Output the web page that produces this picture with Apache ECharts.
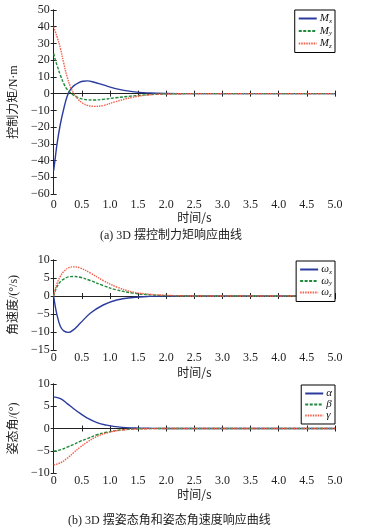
<!DOCTYPE html>
<html><head><meta charset="utf-8">
<script src="https://cdn.jsdelivr.net/npm/echarts@6/dist/echarts.min.js"></script>
<style>html,body{margin:0;padding:0;background:#fff}#c{width:376px;height:532px}</style>
</head><body><div id="c"></div>
<script>
// ---- Data ----
var tA = [0,0.03,0.06,0.12,0.18,0.24,0.3,0.36,0.44,0.52,0.6,0.72,0.88,1.1,1.4,1.7,2.0,2.5,3,3.5,4,4.5,5];
var Mx = [-46,-38,-30,-18,-9,-1.5,2.5,4.8,6.5,7.4,7.6,6.8,5.2,3.0,1.2,0.4,0.1,0,0,0,0,0,0];
var My = [24,20,17,11,6,2.5,0.5,-1,-2.5,-3.3,-3.7,-3.8,-3.4,-2.5,-1.4,-0.6,-0.2,0,0,0,0,0,0];
var Mz = [40,37,34,27,18,10,4,0,-3.5,-5.8,-7,-7.6,-7.1,-4.8,-2.2,-0.7,-0.2,0,0,0,0,0,0];

var tB = [0,0.03,0.06,0.12,0.18,0.26,0.35,0.47,0.65,0.88,1.12,1.41,1.7,2.0,2.5,3,3.5,4,4.5,5];
var wx = [0,-3,-5.3,-8.5,-9.7,-10.1,-9.4,-7.6,-4.8,-2.5,-1.1,-0.4,-0.1,0,0,0,0,0,0,0];
var wy = [0,1.5,2.6,4.0,4.7,5.3,5.4,5.2,4.3,2.9,1.7,0.8,0.35,0.1,0,0,0,0,0,0];
var wz = [0,2,3.5,5.5,6.8,7.8,8.1,7.8,6.4,4.3,2.5,1.1,0.5,0.2,0,0,0,0,0,0];

var tC = [0,0.12,0.24,0.35,0.47,0.59,0.77,0.94,1.18,1.45,1.7,2.0,2.5,3,3.5,4,4.5,5];
var alpha = [7.1,6.7,5.6,4.5,3.4,2.4,1.3,0.75,0.3,0.12,0.05,0,0,0,0,0,0,0];
var beta  = [-5.1,-4.8,-4.2,-3.6,-2.9,-2.3,-1.4,-0.85,-0.35,-0.1,-0.03,0,0,0,0,0,0,0];
var gamma = [-8.2,-7.7,-6.7,-5.5,-4.2,-3.1,-1.8,-1.0,-0.4,-0.12,-0.04,0,0,0,0,0,0,0];

var xTicks = {min:0, max:5, interval:0.5};
var yA = {min:-60, max:50, interval:10, name:'控制力矩/N·m'};
var yB = {min:-15, max:10, interval:5, name:'角速度/(°/s)'};
var yC = {min:-10, max:10, interval:5, name:'姿态角/(°)'};
var captions = ['(a) 3D 摆控制力矩响应曲线', '(b) 3D 摆姿态角和姿态角速度响应曲线'];
var xName = '时间/s';

// ---- Chart ----
var BLUE='#2b3c9e', GREEN='#1e8a3a', RED='#f2604c';
var serif = 'Liberation Serif, Noto Sans CJK SC, serif';
var cjk = 'Noto Sans CJK SC, sans-serif';
function pairs(t,v){return t.map(function(x,i){return [x,v[i]];});}
function fmtY(v){return String(v).replace('-','\u2212');}
function fmtX(v){return v===0?'0':v.toFixed(1);}

var grids = [
  {left:53, top:10, width:282, height:184},
  {left:53, top:260, width:282, height:90},
  {left:53, top:384, width:282, height:89}
];
var yCfg=[yA,yB,yC];
var xMargins=[5,2,2];
var xNameGaps=[17,16,15];
var yNameGaps=[32,30,30];
var xAxes=[], yAxes=[];
var axisLine={show:true, lineStyle:{color:'#222', width:1}};
grids.forEach(function(g,i){
  xAxes.push({type:'value', gridIndex:i, min:xTicks.min, max:xTicks.max, interval:xTicks.interval, position:'bottom',
    axisLine:axisLine, axisTick:{inside:true,length:3,lineStyle:{color:'#222'}}, splitLine:{show:false},
    axisLabel:{formatter:fmtX, fontFamily:serif, fontSize:12, color:'#222', margin:xMargins[i]},
    name:xName, nameLocation:'middle', nameGap:xNameGaps[i], nameTextStyle:{fontFamily:cjk, fontSize:12, color:'#222'}});
  xAxes.push({type:'value', gridIndex:i, min:xTicks.min, max:xTicks.max, interval:xTicks.interval, position:'top',
    axisLine:axisLine, axisTick:{inside:true,length:3,lineStyle:{color:'#222'}}, splitLine:{show:false}, axisLabel:{show:false}});
  var y=yCfg[i];
  yAxes.push({type:'value', gridIndex:i, min:y.min, max:y.max, interval:y.interval, position:'left',
    axisLine:axisLine, axisTick:{inside:true,length:3,lineStyle:{color:'#222'}}, splitLine:{show:false},
    axisLabel:{formatter:fmtY, fontFamily:serif, fontSize:12, color:'#222', margin:4},
    name:y.name, nameLocation:'middle', nameGap:yNameGaps[i], nameRotate:90, nameTextStyle:{fontFamily:serif, fontSize:12, color:'#222'}});
  yAxes.push({type:'value', gridIndex:i, min:y.min, max:y.max, interval:y.interval, position:'right',
    axisLine:axisLine, axisTick:{inside:true,length:3,lineStyle:{color:'#222'}}, splitLine:{show:false}, axisLabel:{show:false}});
});

function ser(name, t, v, gi, color, type){
  return {name:name, type:'line', xAxisIndex:gi*2, yAxisIndex:gi*2, data:pairs(t,v), smooth:0.4,
    symbol:'none', showSymbol:false, lineStyle:{color:color, width:1.4, type:type}, itemStyle:{color:color}, animation:false};
}
var series=[
  ser('Mx',tA,Mx,0,BLUE,'solid'), ser('My',tA,My,0,GREEN,[3,1.5]), ser('Mz',tA,Mz,0,RED,[1.5,1]),
  ser('wx',tB,wx,1,BLUE,'solid'), ser('wy',tB,wy,1,GREEN,[3,1.5]), ser('wz',tB,wz,1,RED,[1.5,1]),
  ser('α',tC,alpha,2,BLUE,'solid'), ser('β',tC,beta,2,GREEN,[3,1.5]), ser('γ',tC,gamma,2,RED,[1.5,1])
];
var labelMap={Mx:'{i|M}{s|x}',My:'{i|M}{s|y}',Mz:'{i|M}{s|z}',wx:'{i|ω}{s|x}',wy:'{i|ω}{s|y}',wz:'{i|ω}{s|z}','α':'{i|α}','β':'{i|β}','γ':'{i|γ}'};
var rich={i:{fontFamily:serif, fontStyle:'italic', fontSize:11, color:'#111'}, s:{fontFamily:serif, fontStyle:'italic', fontSize:7, color:'#111', padding:[5,0,0,0]}};
function legend(names, top, gap){
  return {data:names, orient:'vertical', right:41, top:top, itemWidth:18, itemHeight:8, itemGap:gap,
    padding:[3,3,3,3], borderColor:'#000', borderWidth:1, backgroundColor:'#fff', borderRadius:0,
    itemStyle:{opacity:0, borderWidth:0},
    formatter:function(n){return labelMap[n];}, textStyle:{rich:rich, lineHeight:10, padding:[0,0,0,-2]}};
}
var option={
  animation:false,
  grid:grids, xAxis:xAxes, yAxis:yAxes, series:series,
  legend:[legend(['Mx','My','Mz'],10,1), legend(['wx','wy','wz'],261,0), legend(['α','β','γ'],385,0)],
  title:[
    {text:captions[0], left:100, top:230, textStyle:{fontFamily:serif, fontSize:12, fontWeight:'normal', color:'#222'}, padding:0},
    {text:captions[1], left:68, top:515, textStyle:{fontFamily:serif, fontSize:12, fontWeight:'normal', color:'#222'}, padding:0}
  ]
};
var chart=echarts.init(document.getElementById('c'),null,{renderer:'canvas'});
chart.setOption(option);
</script></body></html>
